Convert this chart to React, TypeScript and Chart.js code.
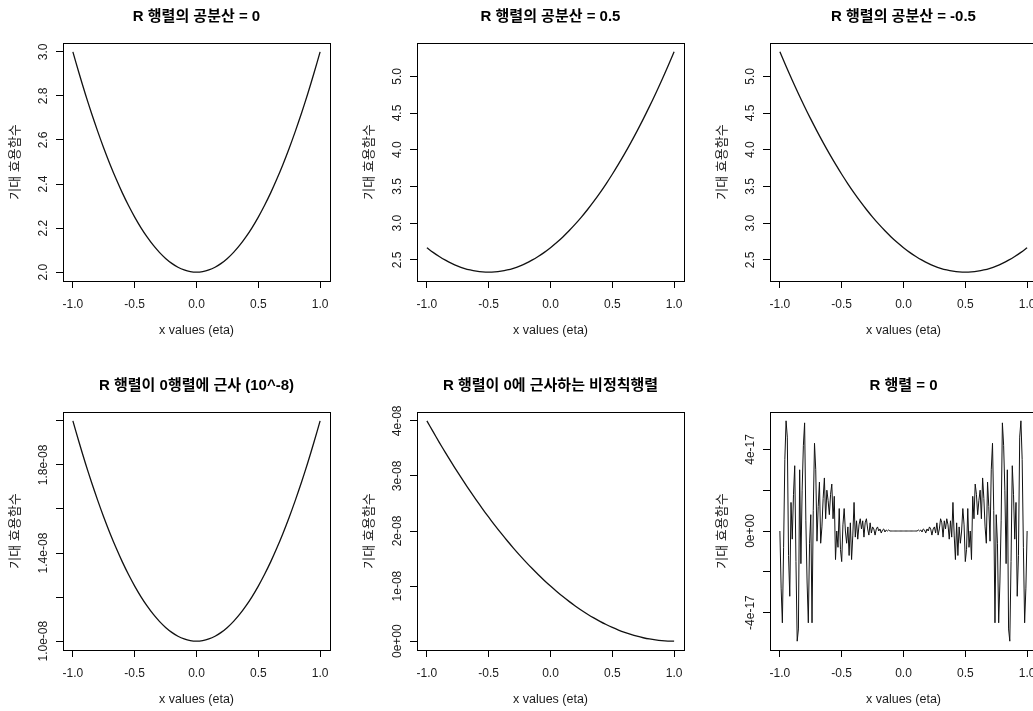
import React, { useEffect, useRef } from 'react';
import { Chart, registerables } from 'chart.js';

Chart.register(...registerables);

const FONT = "'Liberation Sans', 'Noto Sans CJK KR', sans-serif";

// ---------- text ----------
const panelTitles = [
  'R 행렬의 공분산 = 0',
  'R 행렬의 공분산 = 0.5',
  'R 행렬의 공분산 = -0.5',
  'R 행렬이 0행렬에 근사 (10^-8)',
  'R 행렬이 0에 근사하는 비정칙행렬',
  'R 행렬 = 0',
];
const xAxisTitle = 'x values (eta)';
const yAxisTitle = '기대 효용함수';

// ---------- x grid / ticks ----------
const curveX = [
  -1.0, -0.95, -0.9, -0.85, -0.8, -0.75, -0.7, -0.65, -0.6, -0.55,
  -0.5, -0.45, -0.4, -0.35, -0.3, -0.25, -0.2, -0.15, -0.1, -0.05,
  0.0,
  0.05, 0.1, 0.15, 0.2, 0.25, 0.3, 0.35, 0.4, 0.45, 0.5,
  0.55, 0.6, 0.65, 0.7, 0.75, 0.8, 0.85, 0.9, 0.95, 1.0,
];
const xTickValues = [-1, -0.5, 0, 0.5, 1];
const xTickLabels = ['-1.0', '-0.5', '0.0', '0.5', '1.0'];

// ---------- series ----------
const covZeroValues = [
  3.0, 2.9025, 2.81, 2.7225, 2.64, 2.5625, 2.49, 2.4225, 2.36, 2.3025,
  2.25, 2.2025, 2.16, 2.1225, 2.09, 2.0625, 2.04, 2.0225, 2.01, 2.0025,
  2.0,
  2.0025, 2.01, 2.0225, 2.04, 2.0625, 2.09, 2.1225, 2.16, 2.2025, 2.25,
  2.3025, 2.36, 2.4225, 2.49, 2.5625, 2.64, 2.7225, 2.81, 2.9025, 3.0,
];
const covHalfValues = [
  2.6667, 2.6033, 2.5467, 2.4967, 2.4533, 2.4167, 2.3867, 2.3633, 2.3467, 2.3367,
  2.3333, 2.3367, 2.3467, 2.3633, 2.3867, 2.4167, 2.4533, 2.4967, 2.5467, 2.6033,
  2.6667,
  2.7367, 2.8133, 2.8967, 2.9867, 3.0833, 3.1867, 3.2967, 3.4133, 3.5367, 3.6667,
  3.8033, 3.9467, 4.0967, 4.2533, 4.4167, 4.5867, 4.7633, 4.9467, 5.1367, 5.3333,
];
const covMinusHalfValues = [
  5.3333, 5.1367, 4.9467, 4.7633, 4.5867, 4.4167, 4.2533, 4.0967, 3.9467, 3.8033,
  3.6667, 3.5367, 3.4133, 3.2967, 3.1867, 3.0833, 2.9867, 2.8967, 2.8133, 2.7367,
  2.6667,
  2.6033, 2.5467, 2.4967, 2.4533, 2.4167, 2.3867, 2.3633, 2.3467, 2.3367, 2.3333,
  2.3367, 2.3467, 2.3633, 2.3867, 2.4167, 2.4533, 2.4967, 2.5467, 2.6033, 2.6667,
];
const nearZeroValues = [
  2.0e-8, 1.9025e-8, 1.81e-8, 1.7225e-8, 1.64e-8, 1.5625e-8, 1.49e-8, 1.4225e-8, 1.36e-8, 1.3025e-8,
  1.25e-8, 1.2025e-8, 1.16e-8, 1.1225e-8, 1.09e-8, 1.0625e-8, 1.04e-8, 1.0225e-8, 1.01e-8, 1.0025e-8,
  1.0e-8,
  1.0025e-8, 1.01e-8, 1.0225e-8, 1.04e-8, 1.0625e-8, 1.09e-8, 1.1225e-8, 1.16e-8, 1.2025e-8, 1.25e-8,
  1.3025e-8, 1.36e-8, 1.4225e-8, 1.49e-8, 1.5625e-8, 1.64e-8, 1.7225e-8, 1.81e-8, 1.9025e-8, 2.0e-8,
];
const singularValues = [
  4.0e-8, 3.8025e-8, 3.61e-8, 3.4225e-8, 3.24e-8, 3.0625e-8, 2.89e-8, 2.7225e-8, 2.56e-8, 2.4025e-8,
  2.25e-8, 2.1025e-8, 1.96e-8, 1.8225e-8, 1.69e-8, 1.5625e-8, 1.44e-8, 1.3225e-8, 1.21e-8, 1.1025e-8,
  1.0e-8,
  0.9025e-8, 0.81e-8, 0.7225e-8, 0.64e-8, 0.5625e-8, 0.49e-8, 0.4225e-8, 0.36e-8, 0.3025e-8, 0.25e-8,
  0.2025e-8, 0.16e-8, 0.1225e-8, 0.09e-8, 0.0625e-8, 0.04e-8, 0.0225e-8, 0.01e-8, 0.0025e-8, 0.0,
];

const etaGrid = [
  -1.0, -0.99, -0.98, -0.97, -0.96, -0.95, -0.94, -0.93, -0.92, -0.91,
  -0.9, -0.89, -0.88, -0.87, -0.86, -0.85, -0.84, -0.83, -0.82, -0.81,
  -0.8, -0.79, -0.78, -0.77, -0.76, -0.75, -0.74, -0.73, -0.72, -0.71,
  -0.7, -0.69, -0.68, -0.67, -0.66, -0.65, -0.64, -0.63, -0.62, -0.61,
  -0.6, -0.59, -0.58, -0.57, -0.56, -0.55, -0.54, -0.53, -0.52, -0.51,
  -0.5, -0.49, -0.48, -0.47, -0.46, -0.45, -0.44, -0.43, -0.42, -0.41,
  -0.4, -0.39, -0.38, -0.37, -0.36, -0.35, -0.34, -0.33, -0.32, -0.31,
  -0.3, -0.29, -0.28, -0.27, -0.26, -0.25, -0.24, -0.23, -0.22, -0.21,
  -0.2, -0.19, -0.18, -0.17, -0.16, -0.15, -0.14, -0.13, -0.12, -0.11,
  -0.1, -0.09, -0.08, -0.07, -0.06, -0.05, -0.04, -0.03, -0.02, -0.01,
  0.0,
  0.01, 0.02, 0.03, 0.04, 0.05, 0.06, 0.07, 0.08, 0.09, 0.1,
  0.11, 0.12, 0.13, 0.14, 0.15, 0.16, 0.17, 0.18, 0.19, 0.2,
  0.21, 0.22, 0.23, 0.24, 0.25, 0.26, 0.27, 0.28, 0.29, 0.3,
  0.31, 0.32, 0.33, 0.34, 0.35, 0.36, 0.37, 0.38, 0.39, 0.4,
  0.41, 0.42, 0.43, 0.44, 0.45, 0.46, 0.47, 0.48, 0.49, 0.5,
  0.51, 0.52, 0.53, 0.54, 0.55, 0.56, 0.57, 0.58, 0.59, 0.6,
  0.61, 0.62, 0.63, 0.64, 0.65, 0.66, 0.67, 0.68, 0.69, 0.7,
  0.71, 0.72, 0.73, 0.74, 0.75, 0.76, 0.77, 0.78, 0.79, 0.8,
  0.81, 0.82, 0.83, 0.84, 0.85, 0.86, 0.87, 0.88, 0.89, 0.9,
  0.91, 0.92, 0.93, 0.94, 0.95, 0.96, 0.97, 0.98, 0.99, 1.0,
];

// values in units of 1e-17
const NOISE_UNIT = 1e-17;
const zeroMatrixNoiseE17 = [
  0, -2.8, -4.5, -0.8, 3.5, 5.4, 4.6, -1.2, -3.2, 1.4,
  -0.4, 1.8, 3.2, -1.5, -5.4, -4.8, 3.0, -1.6, 2.0, 4.2,
  5.3, 0.5, -2.5, -4.5, -0.6, 0.8, -4.5, 1.0, 4.3, 3.0,
  -0.5, 1.2, 2.4, -0.6, 0.2, 1.6, 2.6, 0.6, 2.0, 1.5,
  0.8, 1.8, 2.3, 0.6, 1.7, -1.4, 0.0, -0.8, 1.1, -0.9,
  -1.5, 0.3, 1.1, 0.0, -0.6, 0.2, -1.2, 0.4, -1.4, -0.2,
  1.4, -0.3, 0.5, -0.4, 0.3, 0.6, 0.1, 0.5, -0.3, 0.4,
  0.6, 0.1, -0.2, 0.4, -0.1, 0.2, 0.1, -0.2, 0.1, 0.2,
  0.0, 0.1, -0.1, 0.05, 0.1, -0.05, 0.05, 0, 0.05, 0,
  0, 0, 0, 0, 0, 0, 0, 0, 0, 0,
  0,
  0, 0, 0, 0, 0, 0, 0, 0, 0, 0,
  0, 0.05, 0, 0.05, -0.05, 0.1, 0.05, -0.1, 0.1, 0.0,
  0.2, 0.1, -0.2, 0.1, 0.2, -0.1, 0.4, -0.2, 0.1, 0.6,
  0.4, -0.3, 0.5, 0.1, 0.6, 0.3, -0.4, 0.5, -0.3, 1.4,
  -0.2, -1.4, 0.4, -1.2, 0.2, -0.6, 0.0, 1.1, 0.3, -1.5,
  -0.9, 1.1, -0.8, 0.0, -1.4, 1.7, 0.6, 2.3, 1.8, 0.8,
  1.5, 2.0, 0.6, 2.6, 1.6, 0.2, -0.6, 2.4, 1.2, -0.5,
  3.0, 4.3, 1.0, -4.5, 0.8, -0.6, -4.5, -2.5, 0.5, 5.3,
  4.2, 2.0, -1.6, 3.0, -4.8, -5.4, -1.5, 3.2, 1.8, -0.4,
  1.4, -3.2, -1.2, 4.6, 5.4, 3.5, -0.8, -4.5, -2.8, 0,
];

// ---------- y ticks ----------
const yTicksCovZero = [2.0, 2.2, 2.4, 2.6, 2.8, 3.0];
const yLabelsCovZero = ['2.0', '2.2', '2.4', '2.6', '2.8', '3.0'];
const yTicksCovHalf = [2.5, 3.0, 3.5, 4.0, 4.5, 5.0];
const yLabelsCovHalf = ['2.5', '3.0', '3.5', '4.0', '4.5', '5.0'];
const yTicksNearZero = [1.0e-8, 1.2e-8, 1.4e-8, 1.6e-8, 1.8e-8, 2.0e-8];
const yLabelsNearZero = ['1.0e-08', '', '1.4e-08', '', '1.8e-08', ''];
const yTicksSingular = [0, 1e-8, 2e-8, 3e-8, 4e-8];
const yLabelsSingular = ['0e+00', '1e-08', '2e-08', '3e-08', '4e-08'];
const yTicksZero = [-4e-17, -2e-17, 0, 2e-17, 4e-17];
const yLabelsZero = ['-4e-17', '', '0e+00', '', '4e-17'];

type PanelSpec = {
  title: string;
  xs: number[];
  ys: number[];
  yTicks: number[];
  yLabels: string[];
  smooth: boolean;
  col: number;
  row: number;
};

const panels: PanelSpec[] = [
  { title: panelTitles[0], xs: curveX, ys: covZeroValues, yTicks: yTicksCovZero, yLabels: yLabelsCovZero, smooth: true, col: 0, row: 0 },
  { title: panelTitles[1], xs: curveX, ys: covHalfValues, yTicks: yTicksCovHalf, yLabels: yLabelsCovHalf, smooth: true, col: 1, row: 0 },
  { title: panelTitles[2], xs: curveX, ys: covMinusHalfValues, yTicks: yTicksCovHalf, yLabels: yLabelsCovHalf, smooth: true, col: 2, row: 0 },
  { title: panelTitles[3], xs: curveX, ys: nearZeroValues, yTicks: yTicksNearZero, yLabels: yLabelsNearZero, smooth: true, col: 0, row: 1 },
  { title: panelTitles[4], xs: curveX, ys: singularValues, yTicks: yTicksSingular, yLabels: yLabelsSingular, smooth: true, col: 1, row: 1 },
  { title: panelTitles[5], xs: etaGrid, ys: zeroMatrixNoiseE17.map((v) => v * NOISE_UNIT), yTicks: yTicksZero, yLabels: yLabelsZero, smooth: false, col: 2, row: 1 },
];

// ---------- layout ----------
const COL_LEFT = [0, 354, 707];
const ROW_TOP = [0, 369];
const CANVAS_W = 393;
const CANVAS_H = 369;
const Y_AXIS_W = 63;
const X_AXIS_H = 88;
const PLOT_W = 267;

const plotBox = {
  id: 'plotBox',
  afterDraw(chart: any) {
    const { ctx, chartArea } = chart;
    const l = Math.round(chartArea.left) + 0.5;
    const t = Math.round(chartArea.top) + 0.5;
    const w = Math.round(chartArea.right) - Math.round(chartArea.left);
    const h = Math.round(chartArea.bottom) - Math.round(chartArea.top);
    ctx.save();
    ctx.strokeStyle = '#000';
    ctx.lineWidth = 1;
    ctx.strokeRect(l, t, w, h);
    ctx.restore();
  },
};

function Panel({ spec }: { spec: PanelSpec }) {
  const ref = useRef<HTMLCanvasElement>(null);
  useEffect(() => {
    const canvas = ref.current!;
    const mctx = canvas.getContext('2d')!;
    mctx.font = `12px ${FONT}`;
    const widest = Math.max(...spec.yLabels.map((l) => mctx.measureText(l).width));
    const yPad = 12 - widest / 2;

    const ylo = Math.min(...spec.ys);
    const yhi = Math.max(...spec.ys);
    const ypad = (yhi - ylo) * 0.04;
    const xlo = Math.min(...spec.xs);
    const xhi = Math.max(...spec.xs);
    const xpad = (xhi - xlo) * 0.04;

    const grid = { drawOnChartArea: false, drawTicks: true, tickLength: 7, color: '#000', lineWidth: 1 };

    const chart = new Chart(canvas, {
      type: 'line',
      data: {
        datasets: [
          {
            data: spec.xs.map((x, i) => ({ x, y: spec.ys[i] })),
            borderColor: '#111',
            borderWidth: spec.smooth ? 1.3 : 1,
            pointRadius: 0,
            fill: false,
            tension: spec.smooth ? 0.3 : 0,
          } as any,
        ],
      },
      options: {
        responsive: false,
        animation: false,
        events: [],
        layout: { padding: { left: 0, right: CANVAS_W - Y_AXIS_W - PLOT_W, top: 0, bottom: 0 } },
        plugins: {
          legend: { display: false },
          tooltip: { enabled: false },
          title: {
            display: true,
            fullSize: false,
            text: spec.title,
            color: '#000',
            font: { family: FONT, size: 15, weight: 'bold', lineHeight: 1.2 },
            padding: { top: 7.5, bottom: 17.5 },
          },
        },
        scales: {
          x: {
            type: 'linear',
            position: 'bottom',
            min: xlo - xpad,
            max: xhi + xpad,
            afterBuildTicks: (s: any) => {
              s.ticks = xTickValues.map((v) => ({ value: v }));
            },
            afterFit: (s: any) => {
              s.height = X_AXIS_H;
            },
            ticks: {
              callback: (_v: any, i: number) => xTickLabels[i],
              color: '#1a1a1a',
              font: { family: FONT, size: 12 },
              padding: 9,
              minRotation: 0,
              maxRotation: 0,
              autoSkip: false,
            },
            grid,
            border: { display: false },
            title: {
              display: true,
              text: xAxisTitle,
              color: '#1a1a1a',
              font: { family: FONT, size: 12.5 },
              padding: { top: 0, bottom: 30.5 },
            },
          },
          y: {
            type: 'linear',
            position: 'left',
            min: ylo - ypad,
            max: yhi + ypad,
            afterBuildTicks: (s: any) => {
              s.ticks = spec.yTicks.map((v) => ({ value: v }));
            },
            afterFit: (s: any) => {
              s.width = Y_AXIS_W;
            },
            ticks: {
              callback: (_v: any, i: number) => spec.yLabels[i],
              color: '#1a1a1a',
              font: { family: FONT, size: 12 },
              padding: yPad,
              minRotation: 90,
              maxRotation: 90,
              crossAlign: 'center',
              autoSkip: false,
            },
            grid,
            border: { display: false },
            title: {
              display: true,
              text: yAxisTitle,
              color: '#1a1a1a',
              font: { family: FONT, size: 13 },
              padding: { top: 7.2, bottom: 0 },
            },
          },
        },
      } as any,
      plugins: [plotBox],
    });
    return () => chart.destroy();
  }, [spec]);

  return (
    <canvas
      ref={ref}
      width={CANVAS_W}
      height={CANVAS_H}
      style={{ position: 'absolute', left: COL_LEFT[spec.col], top: ROW_TOP[spec.row], width: CANVAS_W, height: CANVAS_H, display: 'block' }}
    />
  );
}

export default function App() {
  return (
    <div
      style={{
        position: 'absolute',
        left: 0,
        top: 0,
        width: 1033,
        height: 711,
        overflow: 'hidden',
        background: '#fff',
      }}
    >
      {panels.map((p, i) => (
        <Panel key={i} spec={p} />
      ))}
    </div>
  );
}
